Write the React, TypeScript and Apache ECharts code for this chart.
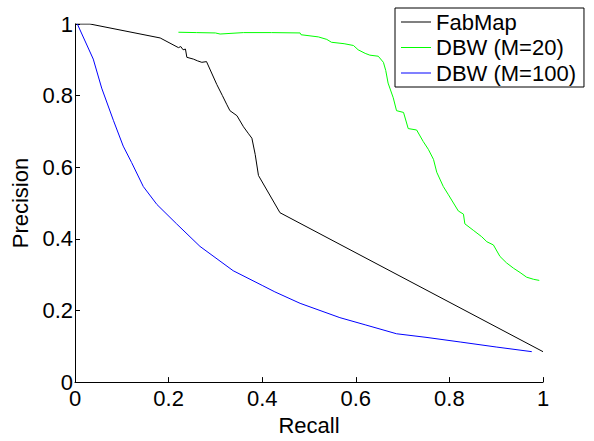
import React, { useEffect, useRef } from "react";
import * as echarts from "echarts";

const xTicks = { min: 0, max: 1, interval: 0.2 };
const yTicks = { min: 0, max: 1, interval: 0.2 };

const seriesNames = ["FabMap", "DBW (M=20)", "DBW (M=100)"];
const seriesColors = ["#000000", "#00ff00", "#0000ff"];

const fabmapRecall = [0, 0.032, 0.182, 0.221, 0.226, 0.231, 0.236, 0.239, 0.253, 0.262, 0.271, 0.281, 0.303, 0.315, 0.324, 0.331, 0.346, 0.36, 0.37, 0.378, 0.385, 0.392, 0.438, 1.0];
const fabmapPrecision = [1, 1, 0.961, 0.934, 0.937, 0.928, 0.93, 0.907, 0.902, 0.897, 0.893, 0.895, 0.831, 0.8, 0.776, 0.758, 0.744, 0.713, 0.695, 0.681, 0.636, 0.577, 0.473, 0.085];

const dbw20Recall = [0.221, 0.26, 0.3, 0.31, 0.36, 0.42, 0.481, 0.483, 0.52, 0.538, 0.548, 0.575, 0.595, 0.605, 0.62, 0.63, 0.648, 0.659, 0.664, 0.669, 0.68, 0.687, 0.702, 0.712, 0.73, 0.744, 0.755, 0.766, 0.773, 0.787, 0.798, 0.819, 0.83, 0.833, 0.851, 0.869, 0.88, 0.894, 0.908, 0.922, 0.937, 0.951, 0.965, 0.98, 0.992];
const dbw20Precision = [0.977, 0.976, 0.975, 0.972, 0.976, 0.976, 0.975, 0.97, 0.964, 0.957, 0.949, 0.945, 0.94, 0.928, 0.918, 0.913, 0.91, 0.893, 0.87, 0.835, 0.794, 0.758, 0.753, 0.708, 0.704, 0.672, 0.65, 0.622, 0.586, 0.546, 0.523, 0.478, 0.469, 0.442, 0.424, 0.406, 0.392, 0.383, 0.351, 0.333, 0.318, 0.306, 0.293, 0.287, 0.284];

const dbw100Recall = [0.005, 0.039, 0.057, 0.082, 0.103, 0.121, 0.146, 0.175, 0.217, 0.267, 0.338, 0.4, 0.427, 0.481, 0.566, 0.62, 0.687, 0.75, 0.823, 0.9, 0.976];
const dbw100Precision = [1.0, 0.902, 0.821, 0.731, 0.659, 0.613, 0.546, 0.496, 0.442, 0.379, 0.311, 0.27, 0.252, 0.22, 0.18, 0.16, 0.135, 0.125, 0.112, 0.098, 0.085];

const zip = (xs: number[], ys: number[]) => xs.map((x, i) => [x, ys[i]]);

const FONT = "'Liberation Sans', Arial, Helvetica, sans-serif";

export default function App() {
  const ref = useRef<HTMLDivElement>(null);
  useEffect(() => {
    if (!ref.current) return;
    const chart = echarts.init(ref.current, undefined, { renderer: "svg" });
    const axisCommon = {
      type: "value" as const,
      nameLocation: "middle" as const,
      nameTextStyle: { fontSize: 22, color: "#000", fontFamily: FONT },
      axisLine: { show: true, lineStyle: { color: "#000", width: 1 } },
      axisTick: { show: true, inside: true, length: 5, lineStyle: { color: "#000", width: 1 } },
      axisLabel: { fontSize: 22, color: "#000", fontFamily: FONT },
      splitLine: { show: false },
    };
    const allData = [
      zip(fabmapRecall, fabmapPrecision),
      zip(dbw20Recall, dbw20Precision),
      zip(dbw100Recall, dbw100Precision),
    ];
    chart.setOption({
      animation: false,
      backgroundColor: "#ffffff",
      textStyle: { fontFamily: FONT },
      grid: { left: 75, top: 24, width: 468, height: 369 },
      xAxis: {
        ...axisCommon,
        ...xTicks,
        name: "Recall",
        nameGap: 23,
        axisLabel: { ...axisCommon.axisLabel, margin: 5 },
      },
      yAxis: {
        ...axisCommon,
        ...yTicks,
        name: "Precision",
        nameGap: 36,
        axisLabel: { ...axisCommon.axisLabel, margin: 2 },
      },
      legend: {
        orient: "vertical",
        left: 395,
        top: 8,
        padding: [3, 8, 3, 6],
        itemGap: 3.5,
        itemWidth: 30,
        itemHeight: 1,
        icon: "rect",
        borderColor: "#000",
        borderWidth: 1,
        borderRadius: 0,
        backgroundColor: "#fff",
        textStyle: { fontSize: 22, color: "#000", fontFamily: FONT, lineHeight: 22 },
        data: seriesNames,
      },
      series: seriesNames.map((name, i) => ({
        name,
        type: "line",
        data: allData[i],
        symbol: "none",
        showSymbol: false,
        lineStyle: { color: seriesColors[i], width: 1 },
        itemStyle: { color: seriesColors[i] },
      })),
    });
    return () => chart.dispose();
  }, []);
  return <div ref={ref} style={{ width: 594, height: 441, position: "absolute", left: 0, top: 0 }} />;
}
